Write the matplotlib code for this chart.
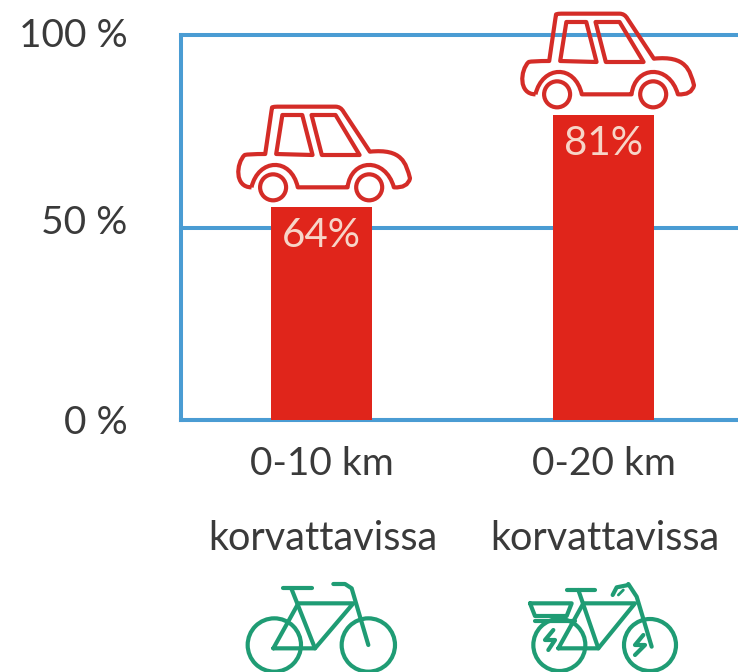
import matplotlib
matplotlib.use("Agg")
import matplotlib.pyplot as plt
from matplotlib.path import Path
from matplotlib.patches import PathPatch, Circle, Polygon
from matplotlib.transforms import ScaledTranslation

plt.rcParams["font.family"] = ["Lato", "DejaVu Sans"]

# ── Data ──────────────────────────────────────────────────────────────────────
categories = ["0-10 km", "0-20 km"]
sublabels = ["korvattavissa", "korvattavissa"]
bar_heights = [55.3, 79.2]  # as drawn in the picture, not what the labels say
bar_labels = ["64%", "81%"]
y_ticks = [0, 50, 100]
y_tick_labels = ["0 %", "50 %", "100 %"]

BLUE = "#4a9cd3"
RED = "#e0251b"
CAR_RED = "#d42c27"
GREEN = "#1f9c74"
TEXT = "#3a3a3a"
W, H = 738, 672

fig = plt.figure(figsize=(W / 100, H / 100), dpi=100)
ax = fig.add_axes([181 / W, (H - 420) / H, (W - 181) / W, 385 / H])

x = range(len(categories))
ax.bar(x, bar_heights, width=0.358, color=RED, zorder=3)
ax.set_xlim(-0.498, 1.477)
ax.set_ylim(0, 100)

ax.set_yticks(y_ticks, y_tick_labels, fontsize=28, color=TEXT)
ax.tick_params(axis="y", length=0, pad=38.5)
ax.set_xticks([])
ax.grid(axis="y", color=BLUE, linewidth=2.9, zorder=1, clip_on=False)
for side in ["top", "right"]:
    ax.spines[side].set_visible(False)
for side in ["left", "bottom"]:
    ax.spines[side].set_color(BLUE)
    ax.spines[side].set_linewidth(2.9)

# the 50 % and 100 % labels sit a bit above their lines in the reference
for lab, shift in zip(ax.get_yticklabels(), [0, 6, 2]):
    lab.set_transform(lab.get_transform() + ScaledTranslation(0, shift / 72, fig.dpi_scale_trans))

trans = ax.get_xaxis_transform()
for i in x:
    ax.text(i, -0.114, categories[i], transform=trans, ha="center", va="center",
            fontsize=28, color=TEXT, clip_on=False)
    ax.text(i + 0.004, -0.309, sublabels[i], transform=trans, ha="center", va="center",
            fontsize=28.5, color=TEXT, clip_on=False)
    ax.annotate(bar_labels[i], (i, bar_heights[i]), xytext=(0, -20.5),
                textcoords="offset points", ha="center", va="center",
                fontsize=29, color="#f7d5c8", zorder=4)

# ── Icons, drawn on a pixel overlay ───────────────────────────────────────────
ov = fig.add_axes([0, 0, 1, 1])
ov.set_xlim(0, W)
ov.set_ylim(H, 0)
ov.axis("off")
ov.patch.set_alpha(0)


def draw_car(dx, dy):
    # points measured in the crop of the first car, crop origin at (200, 0)
    def p(a, b):
        return (200 + a / 2.914 + dx, b / 3 + dy)
    codes = [Path.MOVETO,
             Path.CURVE4, Path.CURVE4, Path.CURVE4,
             Path.CURVE3, Path.CURVE3,
             Path.LINETO,
             Path.LINETO, Path.CURVE3, Path.CURVE3,
             Path.LINETO, Path.CURVE3, Path.CURVE3,
             Path.LINETO,
             Path.CURVE4, Path.CURVE4, Path.CURVE4,
             Path.CURVE3, Path.CURVE3,
             Path.CURVE4, Path.CURVE4, Path.CURVE4,
             Path.LINETO,
             Path.CURVE4, Path.CURVE4, Path.CURVE4]
    pts = [(150, 562),
           (100, 562), (105, 490), (130, 465),
           (140, 462), (190, 462),
           (208, 335),
           (210, 322), (215, 320), (225, 320),
           (395, 320), (410, 320), (418, 335),
           (495, 455),
           (590, 445), (600, 490), (612, 535),
           (605, 565), (565, 562),
           (540, 470), (440, 475), (430, 562),
           (285, 562),
           (265, 470), (170, 475), (150, 562)]
    ov.add_patch(PathPatch(Path([p(*q) for q in pts], codes), fill=False,
                           ec=CAR_RED, lw=3, joinstyle="round"))
    for win in ([(222, 462), (240, 345), (298, 345), (328, 465)],
                [(325, 345), (395, 345), (465, 465), (355, 465)]):
        ov.add_patch(Polygon([p(*q) for q in win], closed=True, fill=False,
                             ec=CAR_RED, lw=3, joinstyle="round"))
    for cx in (213, 493):
        ov.add_patch(Circle(p(cx, 562), 13, fill=False, ec=CAR_RED, lw=3))


def bike_line(pts, lw=3):
    xs = [220 + a / 3 for a, b in pts]
    ys = [560 + b / 3 for a, b in pts]
    ov.plot(xs, ys, color=GREEN, lw=lw, solid_capstyle="round",
            solid_joinstyle="round", clip_on=True)


def bike_wheel(a, b, r):
    ov.add_patch(Circle((220 + a / 3, 560 + b / 3), r / 3, fill=False, ec=GREEN, lw=3))


def draw_bike():
    bike_wheel(163, 255, 80)
    bike_wheel(445, 255, 80)
    bike_line([(160, 265), (285, 265), (400, 130), (235, 130), (160, 265)])
    bike_line([(215, 88), (285, 265)])
    bike_line([(190, 85), (275, 85)])
    bike_line([(340, 72), (375, 72), (395, 85), (445, 255)])


def draw_ebike():
    bike_wheel(1018, 255, 78)
    bike_wheel(1290, 255, 78)
    bike_line([(1015, 265), (1135, 265), (1245, 130), (1090, 130), (1015, 265)])
    bike_line([(1075, 90), (1135, 265)])
    bike_line([(1040, 90), (1125, 90)])
    bike_line([(1225, 72), (1250, 110), (1295, 260)])
    bike_line([(1178, 105), (1190, 82), (1225, 75)])
    bike_line([(1195, 105), (1210, 90)], lw=2)
    bike_line([(930, 130), (1055, 130), (1040, 168), (945, 168), (930, 130)])
    bike_line([(945, 182), (1065, 182)])
    bike_line([(1000, 210), (975, 240), (1005, 240), (985, 270)])
    bike_line([(1270, 225), (1245, 255), (1275, 255), (1245, 285)])


draw_car(0, 0)
draw_car(284, -93)
draw_bike()
draw_ebike()

fig.savefig("out.png", dpi=100)
